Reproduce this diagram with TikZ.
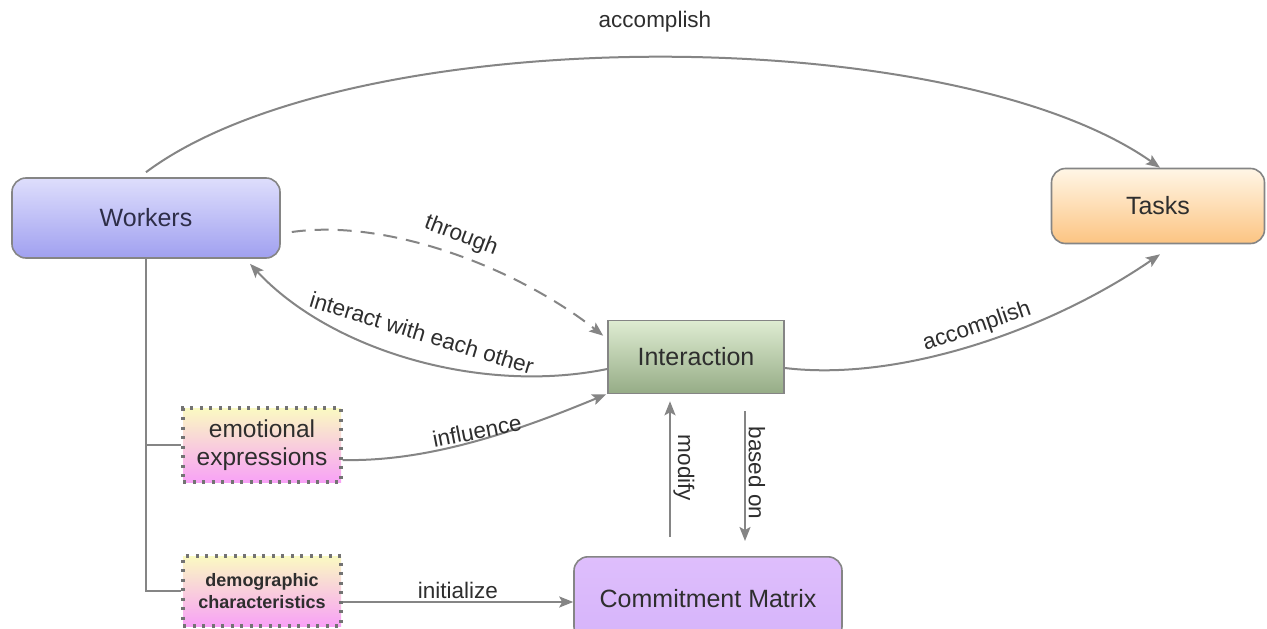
\documentclass[tikz,border=0pt]{standalone}
\usepackage{fontspec}
\setmainfont{Liberation Sans}
\usetikzlibrary{arrows.meta}
\definecolor{linegray}{HTML}{858585}
\definecolor{dotgray}{HTML}{737373}
\definecolor{txt}{HTML}{2E2E2E}
\definecolor{wtxt}{HTML}{2E2E48}
\definecolor{yellowtop}{HTML}{FAFAC2}
\definecolor{pinkbot}{HTML}{F8A2F6}
\begin{document}
\begin{tikzpicture}[x=1pt,y=-1pt,
  lab/.style={font=\fontsize{22.5}{26}\selectfont, text=txt, inner sep=1pt},
  rbox/.style={draw=#1, line width=1.6pt, rounded corners=14pt, font=\fontsize{25}{29}\selectfont, text=txt},
  sbox/.style={draw=#1, line width=1.6pt, font=\fontsize{25}{29}\selectfont, text=txt},
  dotbox/.style={draw=dotgray, line width=3.5pt, dash pattern=on 3pt off 6.5pt,
     top color=yellowtop, bottom color=pinkbot, minimum width=158pt, align=center, text=txt},
  conn/.style={draw=linegray, line width=2pt, -{Stealth[length=14pt,width=11pt,inset=3pt]}},
  plain/.style={draw=linegray, line width=2pt},
]
\clip (0,0) rectangle (1267,629);
\useasboundingbox (0,0) rectangle (1267,629);
\fill[white] (0,0) rectangle (1267,629);

% nodes
\node[rbox=linegray, top color={rgb,255:red,222;green,222;blue,252}, bottom color={rgb,255:red,160;green,160;blue,240},
  minimum width=268pt, minimum height=80pt, text=wtxt] (workers) at (146,218) {Workers};
\node[rbox=linegray, top color={rgb,255:red,255;green,246;blue,230}, bottom color={rgb,255:red,252;green,196;blue,130},
  minimum width=213pt, minimum height=75pt] (tasks) at (1158,206) {Tasks};
\node[sbox=linegray, top color={rgb,255:red,222;green,236;blue,210}, bottom color={rgb,255:red,150;green,172;blue,134},
  minimum width=176pt, minimum height=73pt] (inter) at (696,357) {Interaction};
\node[dotbox, minimum height=74pt, font=\fontsize{24.5}{28}\selectfont] (emo) at (262,445) {emotional\\expressions};
\node[dotbox, minimum height=70pt, font=\bfseries\fontsize{18}{22}\selectfont] (demo) at (262,591) {demographic\\characteristics};
\node[rbox=linegray, top color={rgb,255:red,222;green,190;blue,252}, bottom color={rgb,255:red,214;green,180;blue,250},
  minimum width=268pt, minimum height=84pt, anchor=north] (commit) at (708,556) {Commitment Matrix};

% top accomplish arc
\draw[conn] ([yshift=5pt]workers.north) .. controls (350,20) and (950,20) .. ([xshift=2pt]tasks.north);
\node[lab] (lacc1) at (655,22) {accomplish};

% through (dashed)
\draw[conn, dash pattern=on 14pt off 9pt] ([xshift=11pt,yshift=-14pt]workers.east) .. controls (390,218) and (520,270) .. ([xshift=-4pt,yshift=-16pt]inter.north west);
\node[lab, rotate=-21] (lthr) at (461,236) {through};

% interact with each other
\draw[conn] ([yshift=-12pt]inter.west) .. controls (480,395) and (330,350) .. ([xshift=104pt,yshift=-5pt]workers.south);
\node[lab, rotate=-17] (lint) at (422,333) {interact with each other};

% accomplish lower
\draw[conn] ([yshift=-11pt]inter.east) .. controls (900,382) and (1050,330) .. ([xshift=2pt,yshift=-10pt]tasks.south);
\node[lab, rotate=19] (lacc2) at (977,327) {accomplish};

% influence
\draw[conn] ([yshift=-15pt]emo.east) .. controls (430,462) and (520,430) .. ([xshift=-1pt]inter.south west);
\node[lab, rotate=11] (linf) at (477,431) {influence};

% tree from workers
\draw[plain] (workers.south) |- (demo.west);
\draw[plain] (workers.south |- emo.west) -- (emo.west);

% initialize
\draw[conn] ([yshift=-11pt]demo.east) -- ([yshift=-11pt]demo.east -| commit.west)
  node[lab, midway, above=1pt] (lini) {initialize};

% modify / based on
\draw[conn] ([xshift=-38pt,yshift=19pt]commit.north) -- ([xshift=-26pt,yshift=-7pt]inter.south);
\node[lab, rotate=-90] (lmod) at (684,468) {modify};
\draw[conn] ([xshift=49pt,yshift=-17pt]inter.south) -- ([xshift=37pt,yshift=15pt]commit.north);
\node[lab, rotate=-90] (lbas) at (757,473) {based on};
\end{tikzpicture}
\end{document}
